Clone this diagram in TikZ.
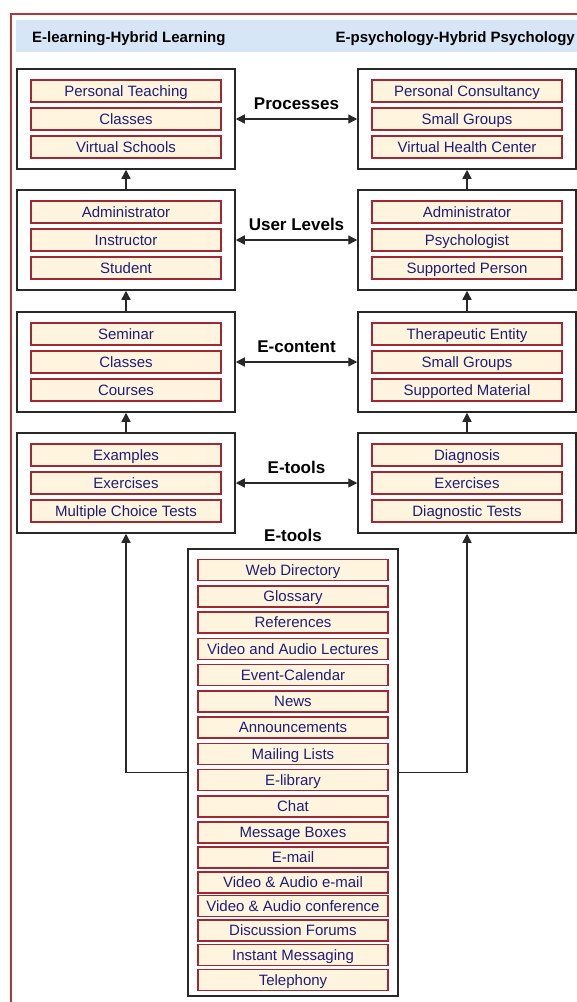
\documentclass[tikz,border=0pt]{standalone}
\usepackage{fontspec}
\setmainfont{Liberation Sans}
\usepackage{xcolor}
\usepackage{tikz}
\usetikzlibrary{arrows.meta,positioning}
\definecolor{hlnavy}{RGB}{30,30,120}
\definecolor{hlcream}{RGB}{255,244,222}
\definecolor{hlred}{RGB}{160,40,50}
\definecolor{hlframe}{RGB}{175,55,65}
\definecolor{hlblue}{RGB}{214,230,247}
\definecolor{hldark}{RGB}{40,40,40}
\begin{document}
\begin{tikzpicture}[x=1pt,y=-1pt,
  grp/.style={draw=hldark,line width=1.5pt,fill=white,minimum width=218pt,minimum height=100pt,inner sep=0pt},
  item/.style={draw=hlred,line width=1.2pt,fill=hlcream,minimum width=190pt,minimum height=22pt,inner sep=0pt,
    text height=10.7pt,text depth=0pt,font=\fontsize{15}{15}\selectfont,text=hlnavy},
  tool/.style={item,minimum height=21pt},
  lab/.style={font=\fontsize{17}{17}\selectfont\bfseries,inner sep=0pt,text=black},
  hd/.style={font=\fontsize{15}{15}\selectfont\bfseries,inner sep=0pt,text=black},
  up/.style={line width=1.4pt,draw=hldark,-{Triangle[length=9pt,width=9pt]}},
  both/.style={line width=1.4pt,draw=hldark,{Triangle[length=9pt,width=9pt]}-{Triangle[length=9pt,width=9pt]}}]
\useasboundingbox (0,0) rectangle (577,1002);
\clip (0,0) rectangle (577,1002);
% frame and header
\draw[hlframe,line width=1.5pt] (11,14) rectangle (600,1020);
\fill[hlblue] (15.5,20) rectangle (577,52);
\node[hd,anchor=base west] (hl) at (32,42.5) {E-learning-Hybrid Learning};
\node[hd,anchor=base east] (hr) at (575,42.5) {E-psychology-Hybrid Psychology};
% left column
\node[grp] (l1) at (126,119) {}; \node[grp] (l2) at (126,240) {}; \node[grp] (l3) at (126,362) {}; \node[grp] (l4) at (126,483) {};
\node[item] at (126,91) {Personal Teaching}; \node[item] at (126,119) {Classes}; \node[item] at (126,147) {Virtual Schools};
\node[item] at (126,212) {Administrator}; \node[item] at (126,240) {Instructor}; \node[item] at (126,268) {Student};
\node[item] at (126,334) {Seminar}; \node[item] at (126,362) {Classes}; \node[item] at (126,390) {Courses};
\node[item] at (126,455) {Examples}; \node[item] at (126,483) {Exercises}; \node[item] at (126,511) {Multiple Choice Tests};
% right column
\node[grp] (r1) at (467,119) {}; \node[grp] (r2) at (467,240) {}; \node[grp] (r3) at (467,362) {}; \node[grp] (r4) at (467,483) {};
\node[item] at (467,91) {Personal Consultancy}; \node[item] at (467,119) {Small Groups}; \node[item] at (467,147) {Virtual Health Center};
\node[item] at (467,212) {Administrator}; \node[item] at (467,240) {Psychologist}; \node[item] at (467,268) {Supported Person};
\node[item] at (467,334) {Therapeutic Entity}; \node[item] at (467,362) {Small Groups}; \node[item] at (467,390) {Supported Material};
\node[item] at (467,455) {Diagnosis}; \node[item] at (467,483) {Exercises}; \node[item] at (467,511) {Diagnostic Tests};
% common e-tools
\node[grp,minimum width=210pt,minimum height=447pt] (all) at (293,772.5) {};
\node[lab,above=6pt of all] {E-tools};
\node[tool] at (293,570) {Web Directory}; \node[tool] at (293,596.5) {Glossary}; \node[tool] at (293,622.5) {References};
\node[tool] at (293,649) {Video and Audio Lectures}; \node[tool] at (293,675) {Event-Calendar}; \node[tool] at (293,701.5) {News};
\node[tool] at (293,727.5) {Announcements}; \node[tool] at (293,754) {Mailing Lists}; \node[tool] at (293,780) {E-library};
\node[tool] at (293,806.5) {Chat}; \node[tool] at (293,832.5) {Message Boxes}; \node[tool] at (293,857.5) {E-mail};
\node[tool] at (293,882.5) {Video \& Audio e-mail}; \node[tool] at (293,906) {Video \& Audio conference}; \node[tool] at (293,930.5) {Discussion Forums};
\node[tool] at (293,955) {Instant Messaging}; \node[tool] at (293,980) {Telephony};
% connectors
\draw[up] (l2) -- (l1); \draw[up] (l3) -- (l2); \draw[up] (l4) -- (l3);
\draw[up] (r2) -- (r1); \draw[up] (r3) -- (r2); \draw[up] (r4) -- (r3);
\draw[both] (l1) -- node[lab,above=9pt]{Processes} (r1);
\draw[both] (l2) -- node[lab,above=9pt]{User Levels} (r2);
\draw[both] (l3) -- node[lab,above=9pt]{E-content} (r3);
\draw[both] (l4) -- node[lab,above=9pt]{E-tools} (r4);
\draw[up] (all.west) -| (l4.south); \draw[up] (all.east) -| (r4.south);
\end{tikzpicture}
\end{document}
